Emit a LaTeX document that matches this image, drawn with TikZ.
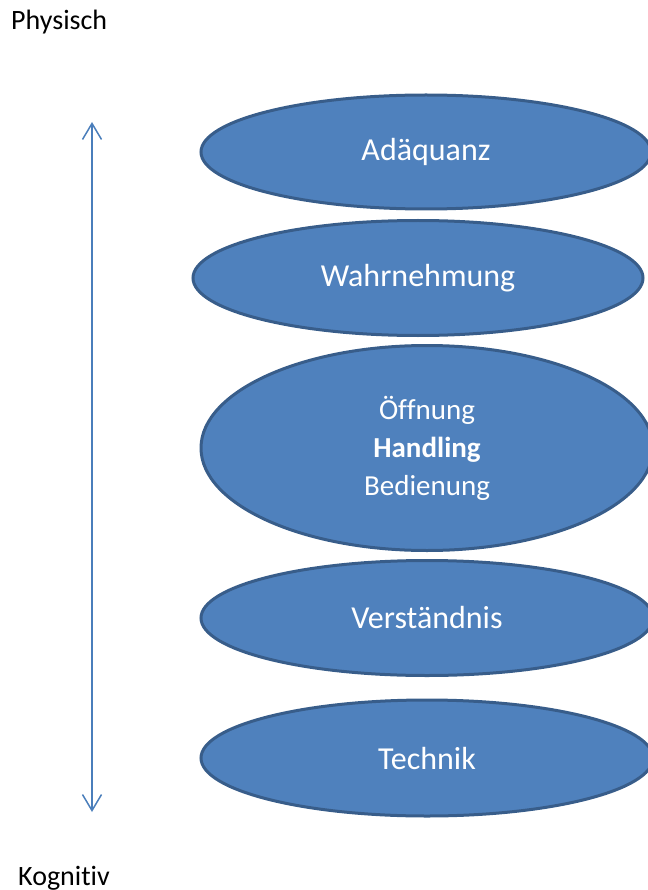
\documentclass[tikz,border=0pt]{standalone}
\usepackage{fontspec}
\setmainfont[Ligatures={NoCommon}]{Carlito}
\usetikzlibrary{shapes.geometric,arrows.meta}
\definecolor{efill}{HTML}{4F81BD}
\definecolor{eborder}{HTML}{385D8A}
\definecolor{arrowblue}{HTML}{4A7EBB}
\tikzset{
  oval/.style={ellipse, draw=eborder, fill=efill, line width=3pt, inner sep=0pt,
    text=white, font=\fontsize{32}{38}\selectfont, align=center},
  label/.style={font=\fontsize{28}{32}\selectfont, text=black, anchor=base west, inner sep=0pt}
}
\begin{document}
\begin{tikzpicture}[x=1pt,y=-1pt]
\useasboundingbox (0,0) rectangle (647,890);
\node[oval, minimum width=450pt, minimum height=114pt] (ad) at (426,152) {Adäquanz};
\node[oval, minimum width=450pt, minimum height=115pt] (wa) at (418,278) {Wahrnehmung};
\node[oval, minimum width=452pt, minimum height=205pt, font=\fontsize{29}{38}\selectfont] (ha) at (427,448) {Öffnung\\\textbf{Handling}\\Bedienung};
\node[oval, minimum width=452pt, minimum height=115pt] (ve) at (427,618) {Verständnis};
\node[oval, minimum width=452pt, minimum height=116pt] (te) at (427,758) {Technik};
\node[label] (ph) at (11,30) {Physisch};
\node[label] (ko) at (18,885) {Kognitiv};
\coordinate (atop) at (92,122);
\coordinate (abot) at (92,812);
\draw[arrowblue, line width=1.5pt, {Straight Barb[length=16pt,width=19pt]}-{Straight Barb[length=16pt,width=19pt]}] (atop) -- (abot);
\end{tikzpicture}
\end{document}
